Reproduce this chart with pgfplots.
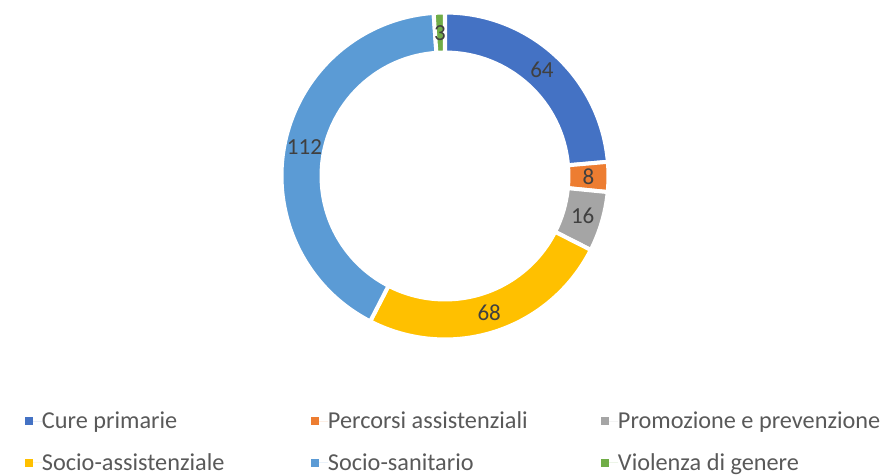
\documentclass[border=0pt]{standalone}
\usepackage{pgfplots}
\pgfplotsset{compat=1.18}
\usepackage{fontspec}
\setmainfont{Carlito}
\definecolor{c1}{HTML}{4472C4}
\definecolor{c2}{HTML}{ED7D31}
\definecolor{c3}{HTML}{A5A5A5}
\definecolor{c4}{HTML}{FFC000}
\definecolor{c5}{HTML}{5B9BD5}
\definecolor{c6}{HTML}{70AD47}
\definecolor{labtext}{HTML}{404040}
\definecolor{legtext}{HTML}{595959}
\newcommand\lblfont{\fontsize{17.25}{20.7}\selectfont}
\newcommand\legfont{\fontsize{18.2}{21.8}\selectfont}
\newcommand\lstrut{\rule[-3pt]{0pt}{15.26pt}}
\begin{document}
\begin{tikzpicture}
\begin{axis}[width=660.75pt,height=356.25pt,scale only axis,
  xmin=0,xmax=881,ymin=0,ymax=475,y dir=reverse,hide axis,clip=false,
  legend columns=3,
  legend image code/.code={\path[#1] (0pt,-3pt) rectangle (6pt,3pt); \path (0pt,0pt) -- (12.75pt,0pt);},
  legend style={at={(axis cs:25,412)},anchor=north west,draw=none,fill=none,
    inner sep=0pt,outer sep=0pt,row sep=16.8pt,column sep=0pt,
    font=\legfont,text=legtext,nodes={inner sep=0pt}},
]
\path (rel axis cs:0,0) rectangle (rel axis cs:1,1);
\def\total{271}
\gdef\s{90}
\foreach \v/\c in {64/c1,8/c2,16/c3,68/c4,112/c5,3/c6} {
  \pgfmathsetmacro\e{\s-\v/\total*360}
  \pgfmathsetmacro\m{(\s+\e)/2}
  \edef\temp{\noexpand\fill[\c,draw=white,line width=3pt]
    ([shift={(\s:122.6pt)}]axis cs:445,176) arc[start angle=\s,end angle=\e,radius=122.6pt]
    -- ([shift={(\e:92.6pt)}]axis cs:445,176) arc[start angle=\e,end angle=\s,radius=92.6pt] -- cycle;
    \noexpand\node[text=labtext,font=\noexpand\lblfont] at ([shift={(\m:107.6pt)}]axis cs:445,176) {\v};}
  \temp
  \xdef\s{\e}
}
\addlegendimage{fill=c1,draw=none}\addlegendentry{\makebox[201.75pt][l]{Cure primarie\lstrut}}
\addlegendimage{fill=c2,draw=none}\addlegendentry{\makebox[204.75pt][l]{Percorsi assistenziali\lstrut}}
\addlegendimage{fill=c3,draw=none}\addlegendentry{\makebox[190pt][l]{Promozione e prevenzione\lstrut}}
\addlegendimage{fill=c4,draw=none}\addlegendentry{\makebox[201.75pt][l]{Socio-assistenziale\lstrut}}
\addlegendimage{fill=c5,draw=none}\addlegendentry{\makebox[204.75pt][l]{Socio-sanitario\lstrut}}
\addlegendimage{fill=c6,draw=none}\addlegendentry{\makebox[190pt][l]{Violenza di genere\lstrut}}
\end{axis}
\pgfresetboundingbox
\useasboundingbox (current axis.south west) rectangle (current axis.north east);
\end{tikzpicture}
\end{document}
